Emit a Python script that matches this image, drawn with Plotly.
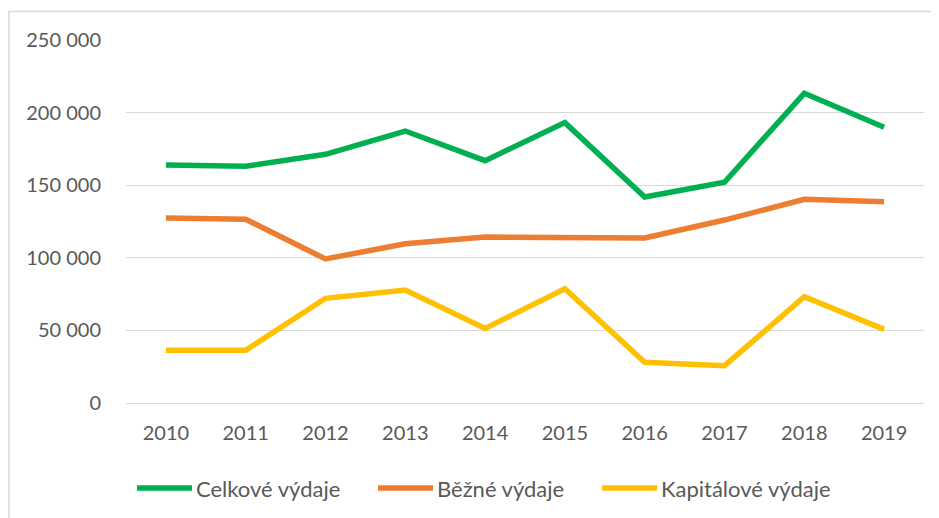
import plotly.graph_objects as go

years = ["2010", "2011", "2012", "2013", "2014", "2015", "2016", "2017", "2018", "2019"]
celkove = [163900, 163000, 171300, 187300, 166900, 193100, 141900, 152000, 213300, 189900]
bezne = [127400, 126500, 99200, 109700, 114300, 114100, 113600, 126000, 140300, 138600]
kapitalove = [36300, 36300, 72100, 77800, 51400, 78700, 28000, 25700, 73200, 50700]

series_names = ["Celkové výdaje", "Běžné výdaje", "Kapitálové výdaje"]
series_values = [celkove, bezne, kapitalove]
colors = ["#00B050", "#ED7D31", "#FFC000"]

# page body has an 8px default margin; work in screen pixels and convert
OFF = 8
W, H = 939 - OFF, 518 - OFF
ML = 126 - OFF
MT = 40 - OFF
MR = W - (924 - OFF)
MB = H - (403 - OFF)
PW, PH = W - ML - MR, H - MT - MB

FONT = "Lato, Calibri, Carlito, sans-serif"
TXT = "#595959"

fig = go.Figure()
for name, vals, col in zip(series_names, series_values, colors):
    fig.add_trace(go.Scatter(
        x=years, y=vals, name=name, mode="lines",
        line=dict(color=col, width=5.5), showlegend=False,
    ))

def px_x(p):
    return (p - OFF - ML) / PW

def px_y(p):
    return (H - MB - (p - OFF)) / PH

shapes = [
    dict(type="rect", xref="paper", yref="paper",
         x0=px_x(OFF + 1), x1=px_x(1200), y0=px_y(11.5), y1=px_y(900),
         line=dict(color="#D9D9D9", width=1.5), fillcolor="rgba(0,0,0,0)", layer="below"),
]
annotations = []
legend_line_x = [(137, 192), (378, 433), (602, 657)]
legend_y = 488
for (x0, x1), name, col in zip(legend_line_x, series_names, colors):
    shapes.append(dict(type="line", xref="paper", yref="paper",
                       x0=px_x(x0), x1=px_x(x1), y0=px_y(legend_y), y1=px_y(legend_y),
                       line=dict(color=col, width=5.5)))
    annotations.append(dict(xref="paper", yref="paper", x=px_x(x1 + 2), y=px_y(legend_y),
                            xanchor="left", yanchor="middle", text=name, showarrow=False,
                            font=dict(family=FONT, size=22, color=TXT)))

fig.update_layout(
    width=W, height=H,
    margin=dict(l=ML, r=MR, t=MT, b=MB, autoexpand=False),
    paper_bgcolor="white", plot_bgcolor="white",
    separators=", ",
    font=dict(family=FONT, size=20, color=TXT),
    shapes=shapes, annotations=annotations,
    xaxis=dict(type="category", range=[-0.5, 9.5], automargin=False,
               showgrid=False, showline=False, zeroline=False,
               ticks="outside", ticklen=12, tickcolor="rgba(0,0,0,0)",
               tickfont=dict(family=FONT, size=20, color=TXT)),
    yaxis=dict(range=[0, 250000], dtick=50000, tickformat=",d", automargin=False,
               showgrid=True, gridcolor="#D9D9D9", gridwidth=1.3,
               zeroline=True, zerolinecolor="#D9D9D9", zerolinewidth=1.3,
               showline=False, ticks="outside", ticklen=20, tickcolor="rgba(0,0,0,0)",
               tickfont=dict(family=FONT, size=20, color=TXT)),
)

fig.write_html("out.html")
